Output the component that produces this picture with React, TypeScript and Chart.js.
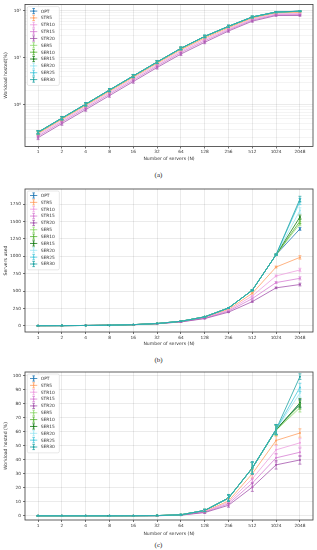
import React, { useEffect, useRef } from 'react';
import { Chart, registerables } from 'chart.js';
Chart.register(...registerables);

const FONT = "'DejaVu Sans', sans-serif";

const N_LABELS = ['1', '2', '4', '8', '16', '32', '64', '128', '256', '512', '1024', '2048'];
const SERIES = ['OPT', 'STR5', 'STR10', 'STR15', 'STR20', 'SER5', 'SER10', 'SER15', 'SER20', 'SER25', 'SER30'];
const COLORS = ['#1f77b4', '#ffa062', '#ee9fe0', '#d77fd3', '#a455ad', '#90d870', '#55b332', '#127a12', '#9ee6f2', '#48c8dc', '#1fa3a3'];

// Panel (a): workload hosted (%), log scale
const A_OPT = [0.26, 0.52, 1.03, 2.06, 4.1, 8.1, 15.8, 28.4, 46.5, 73.5, 93.5, 97.5];
const A_STR5 = [0.245, 0.49, 0.97, 1.93, 3.85, 7.6, 14.8, 26.3, 43.5, 69.5, 89, 92];
const A_STR10 = [0.23, 0.46, 0.91, 1.81, 3.6, 7.1, 13.8, 24.6, 41, 66, 85.5, 87.5];
const A_STR15 = [0.215, 0.43, 0.85, 1.69, 3.35, 6.65, 12.9, 22.9, 39, 63, 82, 83];
const A_STR20 = [0.2, 0.4, 0.79, 1.57, 3.12, 6.2, 12, 21.3, 37, 60, 79, 79];
const A_SER5 = [0.258, 0.515, 1.02, 2.04, 4.07, 8.05, 15.7, 28.2, 46.2, 73, 93, 97];
const A_SER10 = [0.259, 0.517, 1.025, 2.05, 4.08, 8.07, 15.75, 28.3, 46.3, 73.2, 93.2, 97.2];
const A_SER15 = [0.26, 0.519, 1.03, 2.055, 4.09, 8.09, 15.78, 28.35, 46.4, 73.4, 93.4, 97.4];
const A_SER20 = [0.261, 0.52, 1.032, 2.06, 4.1, 8.1, 15.8, 28.4, 46.5, 73.5, 93.5, 97.6];
const A_SER25 = [0.262, 0.522, 1.034, 2.065, 4.11, 8.12, 15.85, 28.45, 46.6, 73.6, 93.6, 97.8];
const A_SER30 = [0.263, 0.524, 1.036, 2.07, 4.12, 8.14, 15.9, 28.5, 46.7, 73.8, 93.8, 98];

const A_ERR_OPT = [0.02, 0.04, 0.08, 0.15, 0.3, 0.55, 1, 1.6, 2.4, 3, 2.5, 2];
const A_ERR_STR5 = [0.02, 0.04, 0.07, 0.14, 0.28, 0.5, 0.95, 1.6, 2.4, 3, 2.5, 2.2];
const A_ERR_STR10 = [0.02, 0.035, 0.07, 0.13, 0.26, 0.5, 0.9, 1.5, 2.3, 3, 2.6, 2.4];
const A_ERR_STR15 = [0.018, 0.035, 0.065, 0.13, 0.25, 0.48, 0.9, 1.5, 2.3, 3, 2.6, 2.4];
const A_ERR_STR20 = [0.018, 0.033, 0.06, 0.12, 0.24, 0.45, 0.85, 1.4, 2.2, 3, 2.6, 2.4];
const A_ERR_SER5 = [0.02, 0.04, 0.08, 0.15, 0.3, 0.55, 1, 1.6, 2.4, 3, 2.5, 2];
const A_ERR_SER10 = [0.02, 0.04, 0.08, 0.15, 0.3, 0.55, 1, 1.6, 2.4, 3, 2.5, 2];
const A_ERR_SER15 = [0.02, 0.04, 0.08, 0.15, 0.3, 0.55, 1, 1.6, 2.4, 3, 2.5, 2];
const A_ERR_SER20 = [0.02, 0.04, 0.08, 0.15, 0.3, 0.55, 1, 1.6, 2.4, 3, 2.5, 2];
const A_ERR_SER25 = [0.02, 0.04, 0.08, 0.15, 0.3, 0.55, 1, 1.6, 2.4, 3, 2.5, 2];
const A_ERR_SER30 = [0.02, 0.04, 0.08, 0.15, 0.3, 0.55, 1, 1.6, 2.4, 3, 2.5, 2];

const A_TICKS = [0.2, 0.3, 0.4, 0.5, 0.6, 0.7, 0.8, 0.9, 1, 2, 3, 4, 5, 6, 7, 8, 9, 10, 20, 30, 40, 50, 60, 70, 80, 90, 100];
const A_TICK_LABELS: Record<string, string> = { '1': '10\u2070', '10': '10\u00b9', '100': '10\u00b2' };

// Panel (b): servers used
const B_OPT = [1, 2, 4, 8, 16, 32, 64, 128, 256, 512, 1024, 1395];
const B_STR5 = [1, 2, 4, 8, 16, 31, 61, 120, 236, 467, 846, 985];
const B_STR10 = [1, 2, 4, 8, 15.5, 30.5, 59, 114, 222, 429, 718, 803];
const B_STR15 = [1, 2, 4, 7.5, 15, 30, 57, 108, 210, 391, 622, 683];
const B_STR20 = [1, 2, 4, 7.5, 15, 29.5, 55, 103, 196, 348, 546, 594];
const B_SER5 = [1, 2, 4, 8, 16, 32, 64, 128, 256, 512, 1024, 1470];
const B_SER10 = [1, 2, 4, 8, 16, 32, 64, 128, 256, 512, 1024, 1505];
const B_SER15 = [1, 2, 4, 8, 16, 32, 64, 128, 256, 512, 1024, 1565];
const B_SER20 = [1, 2, 4, 8, 16, 32, 64, 128, 256, 512, 1024, 1660];
const B_SER25 = [1, 2, 4, 8, 16, 32, 64, 128, 256, 512, 1024, 1790];
const B_SER30 = [1, 2, 4, 8, 16, 32, 64, 128, 256, 512, 1024, 1825];

const B_ERR_OPT = [0, 0, 0, 0, 0, 1, 2, 3, 5, 6, 8, 20];
const B_ERR_STR5 = [0, 0, 0, 0, 0.5, 1, 2, 4, 6, 10, 14, 25];
const B_ERR_STR10 = [0, 0, 0, 0, 0.5, 1, 2, 4, 6, 10, 14, 25];
const B_ERR_STR15 = [0, 0, 0, 0, 0.5, 1, 2, 4, 6, 10, 14, 22];
const B_ERR_STR20 = [0, 0, 0, 0, 0.5, 1, 2, 4, 6, 10, 12, 20];
const B_ERR_SER5 = [0, 0, 0, 0, 0, 1, 2, 3, 5, 6, 8, 30];
const B_ERR_SER10 = [0, 0, 0, 0, 0, 1, 2, 3, 5, 6, 8, 35];
const B_ERR_SER15 = [0, 0, 0, 0, 0, 1, 2, 3, 5, 6, 8, 30];
const B_ERR_SER20 = [0, 0, 0, 0, 0, 1, 2, 3, 5, 6, 8, 40];
const B_ERR_SER25 = [0, 0, 0, 0, 0, 1, 2, 3, 5, 6, 8, 45];
const B_ERR_SER30 = [0, 0, 0, 0, 0, 1, 2, 3, 5, 6, 8, 40];

const B_TICKS = [0, 250, 500, 750, 1000, 1250, 1500, 1750];

// Panel (c): workload hosted (%)
const C_OPT = [0, 0, 0, 0, 0.05, 0.15, 0.7, 3.8, 12.6, 34, 61.5, 80];
const C_STR5 = [0, 0, 0, 0, 0.05, 0.12, 0.6, 3.2, 10.5, 30, 53.7, 59];
const C_STR10 = [0, 0, 0, 0, 0.04, 0.1, 0.55, 2.9, 9.5, 26.4, 47, 52];
const C_STR15 = [0, 0, 0, 0, 0.03, 0.1, 0.5, 2.6, 8.5, 23.3, 41.3, 45.3];
const C_STR20 = [0, 0, 0, 0, 0.03, 0.08, 0.45, 2.3, 7.5, 20.4, 36.3, 39.8];
const C_SER5 = [0, 0, 0, 0, 0.05, 0.15, 0.7, 3.8, 12.6, 34, 61, 77];
const C_SER10 = [0, 0, 0, 0, 0.05, 0.15, 0.7, 3.8, 12.6, 34, 61.2, 79];
const C_SER15 = [0, 0, 0, 0, 0.05, 0.15, 0.7, 3.8, 12.6, 34, 61.3, 80.5];
const C_SER20 = [0, 0, 0, 0, 0.05, 0.15, 0.7, 3.8, 12.6, 34, 61.4, 87.5];
const C_SER25 = [0, 0, 0, 0, 0.05, 0.15, 0.7, 3.8, 12.6, 34.1, 61.5, 91.5];
const C_SER30 = [0, 0, 0, 0, 0.05, 0.15, 0.7, 3.8, 12.7, 34.2, 61.6, 99.2];

const C_ERR_OPT = [0, 0, 0, 0, 0, 0.1, 0.3, 0.8, 2, 4, 3.5, 3];
const C_ERR_STR5 = [0, 0, 0, 0, 0, 0.1, 0.3, 0.7, 1.8, 3, 3, 3];
const C_ERR_STR10 = [0, 0, 0, 0, 0, 0.1, 0.3, 0.7, 1.6, 3, 3, 3];
const C_ERR_STR15 = [0, 0, 0, 0, 0, 0.1, 0.3, 0.6, 1.5, 3, 3, 3];
const C_ERR_STR20 = [0, 0, 0, 0, 0, 0.1, 0.3, 0.6, 1.4, 3, 3, 3];
const C_ERR_SER5 = [0, 0, 0, 0, 0, 0.1, 0.3, 0.8, 2, 4, 3.5, 3];
const C_ERR_SER10 = [0, 0, 0, 0, 0, 0.1, 0.3, 0.8, 2, 4, 3.5, 3];
const C_ERR_SER15 = [0, 0, 0, 0, 0, 0.1, 0.3, 0.8, 2, 4, 3.5, 3];
const C_ERR_SER20 = [0, 0, 0, 0, 0, 0.1, 0.3, 0.8, 2, 4, 3.5, 3];
const C_ERR_SER25 = [0, 0, 0, 0, 0, 0.1, 0.3, 0.8, 2, 4, 3.5, 3];
const C_ERR_SER30 = [0, 0, 0, 0, 0, 0.1, 0.3, 0.8, 2.5, 4.5, 3.5, 2];

const C_TICKS = [0, 10, 20, 30, 40, 50, 60, 70, 80, 90, 100];

const A_VALUES = [A_OPT, A_STR5, A_STR10, A_STR15, A_STR20, A_SER5, A_SER10, A_SER15, A_SER20, A_SER25, A_SER30];
const A_ERRORS = [A_ERR_OPT, A_ERR_STR5, A_ERR_STR10, A_ERR_STR15, A_ERR_STR20, A_ERR_SER5, A_ERR_SER10, A_ERR_SER15, A_ERR_SER20, A_ERR_SER25, A_ERR_SER30];
const B_VALUES = [B_OPT, B_STR5, B_STR10, B_STR15, B_STR20, B_SER5, B_SER10, B_SER15, B_SER20, B_SER25, B_SER30];
const B_ERRORS = [B_ERR_OPT, B_ERR_STR5, B_ERR_STR10, B_ERR_STR15, B_ERR_STR20, B_ERR_SER5, B_ERR_SER10, B_ERR_SER15, B_ERR_SER20, B_ERR_SER25, B_ERR_SER30];
const C_VALUES = [C_OPT, C_STR5, C_STR10, C_STR15, C_STR20, C_SER5, C_SER10, C_SER15, C_SER20, C_SER25, C_SER30];
const C_ERRORS = [C_ERR_OPT, C_ERR_STR5, C_ERR_STR10, C_ERR_STR15, C_ERR_STR20, C_ERR_SER5, C_ERR_SER10, C_ERR_SER15, C_ERR_SER20, C_ERR_SER25, C_ERR_SER30];

const errorBarPlugin = {
  id: 'errorBars',
  afterDatasetsDraw(chart: any) {
    const { ctx, chartArea: a } = chart;
    const ys = chart.scales.y;
    ctx.save();
    ctx.beginPath();
    ctx.rect(a.left, a.top, a.right - a.left, a.bottom - a.top);
    ctx.clip();
    chart.data.datasets.forEach((ds: any, i: number) => {
      const meta = chart.getDatasetMeta(i);
      ctx.strokeStyle = ds.borderColor;
      ctx.lineWidth = 0.7;
      meta.data.forEach((pt: any, j: number) => {
        const v = ds.data[j].y;
        const e = ds.errors[j];
        const lo = Math.max(v - e, ys.min);
        const y1 = ys.getPixelForValue(lo);
        const y2 = ys.getPixelForValue(v + e);
        const x = pt.x;
        ctx.beginPath();
        ctx.moveTo(x, y1);
        ctx.lineTo(x, y2);
        ctx.moveTo(x - 1.5, y1);
        ctx.lineTo(x + 1.5, y1);
        ctx.moveTo(x - 1.5, y2);
        ctx.lineTo(x + 1.5, y2);
        ctx.stroke();
      });
    });
    ctx.restore();
  },
};

const framePlugin = {
  id: 'frame',
  afterDraw(chart: any) {
    const { ctx, chartArea: a } = chart;
    ctx.save();
    ctx.strokeStyle = '#3a3a3a';
    ctx.lineWidth = 0.8;
    ctx.strokeRect(a.left, a.top, a.right - a.left, a.bottom - a.top);

    // legend (upper left inside the axes)
    const bx = a.left + 2.3;
    const by = a.top + 2;
    const step = 6.85;
    const bw = 32;
    const bh = SERIES.length * step + 3.5;
    ctx.fillStyle = 'rgba(255,255,255,0.85)';
    ctx.strokeStyle = '#d6d6d6';
    ctx.lineWidth = 0.6;
    ctx.beginPath();
    if (ctx.roundRect) ctx.roundRect(bx, by, bw, bh, 1.5);
    else ctx.rect(bx, by, bw, bh);
    ctx.fill();
    ctx.stroke();
    ctx.font = `4.4px ${FONT}`;
    ctx.textBaseline = 'middle';
    ctx.textAlign = 'left';
    SERIES.forEach((name, i) => {
      const y = by + 4.5 + i * step;
      const c = COLORS[i];
      ctx.strokeStyle = c;
      ctx.lineWidth = 0.8;
      ctx.beginPath();
      ctx.moveTo(bx + 2.7, y);
      ctx.lineTo(bx + 10, y);
      ctx.moveTo(bx + 6.35, y - 2.6);
      ctx.lineTo(bx + 6.35, y + 2.6);
      ctx.moveTo(bx + 5.1, y - 2.6);
      ctx.lineTo(bx + 7.6, y - 2.6);
      ctx.moveTo(bx + 5.1, y + 2.6);
      ctx.lineTo(bx + 7.6, y + 2.6);
      ctx.stroke();
      ctx.fillStyle = c;
      ctx.beginPath();
      ctx.arc(bx + 6.35, y, 0.9, 0, Math.PI * 2);
      ctx.fill();
      ctx.fillStyle = '#333';
      ctx.fillText(name, bx + 13.4, y + 0.3);
    });
    ctx.restore();
  },
};

type PanelProps = {
  values: number[][];
  errors: number[][];
  logY: boolean;
  yMin: number;
  yMax: number;
  yTicks: number[];
  yTitle: string;
  width: number;
  height: number;
  padTop: number;
  xAxisH: number;
};

function isPow10(v: number) {
  const l = Math.log10(v);
  return Math.abs(l - Math.round(l)) < 1e-9;
}

function Panel(p: PanelProps) {
  const ref = useRef<HTMLCanvasElement>(null);
  useEffect(() => {
    if (!ref.current) return;
    const datasets = SERIES.map((name, i) => ({
      label: name,
      data: p.values[i].map((v, j) => ({ x: j, y: v })),
      errors: p.errors[i],
      borderColor: COLORS[i],
      backgroundColor: COLORS[i],
      pointBackgroundColor: COLORS[i],
      borderWidth: 0.8,
      pointRadius: 1,
      pointBorderWidth: 0,
      order: SERIES.length - i,
      tension: 0,
    }));
    const gridColor = (ctx: any) => {
      if (p.logY && ctx.tick && !isPow10(ctx.tick.value)) return 'rgba(0,0,0,0.09)';
      return 'rgba(0,0,0,0.16)';
    };
    const chart = new Chart(ref.current, {
      type: 'line',
      data: { datasets } as any,
      plugins: [errorBarPlugin, framePlugin],
      options: {
        animation: false,
        responsive: false,
        devicePixelRatio: 1,
        layout: { padding: { top: p.padTop, right: 4, left: 0, bottom: 0 } },
        plugins: { legend: { display: false }, tooltip: { enabled: false } },
        scales: {
          x: {
            type: 'linear',
            min: -0.55,
            max: 11.55,
            afterBuildTicks: (s: any) => {
              s.ticks = N_LABELS.map((_, i) => ({ value: i }));
            },
            afterFit: (s: any) => {
              s.height = p.xAxisH;
            },
            border: { display: false },
            grid: {
              color: 'rgba(0,0,0,0.16)',
              lineWidth: 0.5,
              borderDash: [2, 2],
              tickLength: 2,
              tickColor: '#3a3a3a',
              tickWidth: 0.7,
              tickBorderDash: [],
            },
            ticks: {
              autoSkip: false,
              maxRotation: 0,
              padding: 1,
              color: '#333',
              font: { family: FONT, size: 4.3 },
              callback: (v: any) => N_LABELS[v as number] ?? '',
            },
            title: {
              display: true,
              text: 'Number of servers (N)',
              color: '#333',
              font: { family: FONT, size: 4.6 },
              padding: { top: 0, bottom: 0 },
            },
          },
          y: {
            type: p.logY ? 'logarithmic' : 'linear',
            min: p.yMin,
            max: p.yMax,
            afterBuildTicks: (s: any) => {
              s.ticks = p.yTicks.map((v) => ({ value: v }));
            },
            afterFit: (s: any) => {
              s.width = 25;
            },
            border: { display: false },
            grid: {
              color: gridColor,
              lineWidth: 0.5,
              borderDash: [2, 2],
              tickLength: 2,
              tickColor: (ctx: any) => (p.logY && ctx.tick && !isPow10(ctx.tick.value) ? 'rgba(0,0,0,0)' : '#3a3a3a'),
              tickWidth: 0.7,
              tickBorderDash: [],
            },
            ticks: {
              autoSkip: false,
              padding: 2,
              color: '#333',
              font: { family: FONT, size: 4.3 },
              callback: (v: any) => (p.logY ? A_TICK_LABELS[String(v)] ?? '' : String(v)),
            },
            title: {
              display: true,
              text: p.yTitle,
              color: '#333',
              font: { family: FONT, size: 4.6 },
              padding: { top: 3.2, bottom: 0 },
            },
          },
        },
      } as any,
    });
    return () => chart.destroy();
  }, []);
  return <canvas ref={ref} width={p.width} height={p.height} style={{ width: p.width, height: p.height, display: 'block' }} />;
}

const captionStyle: React.CSSProperties = {
  position: 'absolute',
  left: 0,
  width: 317,
  textAlign: 'center',
  fontFamily: "'Liberation Serif', serif",
  fontSize: 7,
  lineHeight: '8px',
  color: '#222',
};

export default function App() {
  return (
    <div style={{ position: 'absolute', left: 0, top: 0, width: 317, height: 550, background: '#fff', overflow: 'hidden' }}>
      <div style={{ position: 'absolute', left: 0, top: 0 }}>
        <Panel values={A_VALUES} errors={A_ERRORS} logY={true} yMin={0.13} yMax={135} yTicks={A_TICKS}
          yTitle="Workload hosted(%)" width={317} height={162} padTop={3} xAxisH={15.5} />
      </div>
      <div style={{ ...captionStyle, top: 171 }}>(a)</div>
      <div style={{ position: 'absolute', left: 0, top: 180 }}>
        <Panel values={B_VALUES} errors={B_ERRORS} logY={false} yMin={-90} yMax={1970} yTicks={B_TICKS}
          yTitle="Servers used" width={317} height={167} padTop={9} xAxisH={15} />
      </div>
      <div style={{ ...captionStyle, top: 356 }}>(b)</div>
      <div style={{ position: 'absolute', left: 0, top: 360 }}>
        <Panel values={C_VALUES} errors={C_ERRORS} logY={false} yMin={-3} yMax={102.5} yTicks={C_TICKS}
          yTitle="Workload hosted (%)" width={317} height={177} padTop={12} xAxisH={17} />
      </div>
      <div style={{ ...captionStyle, top: 541 }}>(c)</div>
    </div>
  );
}
